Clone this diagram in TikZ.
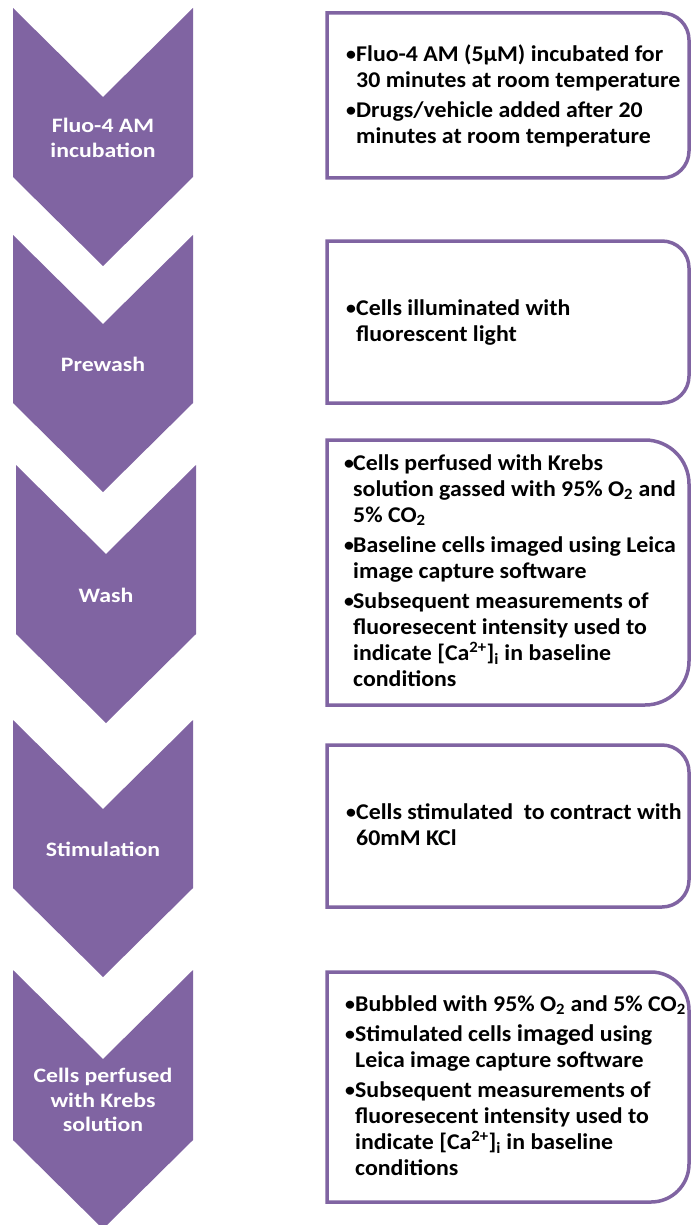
\documentclass[tikz,border=0pt]{standalone}
\usepackage{fontspec}
\setmainfont{Carlito}[FakeStretch=1.06]
\newfontfamily\chevfam{Carlito}[FakeStretch=1.16]
\definecolor{pur}{HTML}{8064A2}
\newcommand\chevfont{\chevfam\fontsize{20.5}{24.5}\selectfont\bfseries}
\newcommand\boxfont{\fontsize{22.5}{26}\selectfont\bfseries}
\newcommand\bul{{\mdseries •}}
\newcommand\chevshape[3]{\fill[pur] (#1,#2) -- ++(90,89) -- ++(90,-89) -- ++(0,#3) -- ++(-90,89) -- ++(-90,-89) -- cycle;}
\newcommand\infoshape[3]{\draw[infobox] (327,#1) -- ({689-#3},#1) arc[start angle=-90,end angle=0,radius=#3] -- (689,{#2-#3}) arc[start angle=0,end angle=90,radius=#3] -- (327,#2) -- cycle;}
\begin{document}
\begin{tikzpicture}[x=1pt,y=-1pt,
  infobox/.style={draw=pur,line width=3.5pt},
  steptext/.style={text=white,font=\chevfont,align=center,inner sep=0},
  infotext/.style={anchor=west,inner sep=0,font=\boxfont,text=black}]
\useasboundingbox (0,0) rectangle (692,1225);
% chevrons
\chevshape{13}{8}{169}
\chevshape{13}{235}{168}
\chevshape{16}{465}{169}
\chevshape{13}{720}{168}
\chevshape{13}{970}{170}
\node[steptext] (c1) at (103,138) {Fluo-4 AM\\incubation};
\node[steptext] (c2) at (103,364) {Prewash};
\node[steptext] (c3) at (106,595) {Wash};
\node[steptext] (c4) at (103,849) {Stimulation};
\node[steptext] (c5) at (103,1100) {Cells perfused\\with Krebs\\solution};
% boxes
\infoshape{13}{178}{27}
\infoshape{241}{403}{27}
\infoshape{440}{705}{44}
\infoshape{745}{907}{27}
\infoshape{972}{1202}{38}
\node[infotext] (b1) at (345,97) {\begin{tabular}{@{}p{11pt}@{}l@{}}
\bul & Fluo-4 AM (5µM) incubated for\\
 & 30 minutes at room temperature\\[4pt]
\bul & Drugs/vehicle added after 20\\
 & minutes at room temperature
\end{tabular}};
\node[infotext] (b2) at (345,323) {\begin{tabular}{@{}p{11pt}@{}l@{}}
\bul & Cells illuminated with\\
 & fluorescent light
\end{tabular}};
\node[infotext] (b3) at (343,573) {\begin{tabular}{@{}p{10pt}@{}l@{}}
\bul & Cells perfused with Krebs\\
 & solution gassed with 95\% O\textsubscript{2} and\\
 & 5\% CO\textsubscript{2}\\[4pt]
\bul & Baseline cells imaged using Leica\\
 & image capture software\\[4pt]
\bul & Subsequent measurements of\\
 & fluoresecent intensity used to\\
 & indicate [Ca\textsuperscript{2+}]\textsubscript{i} in baseline\\
 & conditions
\end{tabular}};
\node[infotext] (b4) at (345,827) {\begin{tabular}{@{}p{11pt}@{}l@{}}
\bul & Cells stimulated~ to contract with\\
 & 60mM KCl
\end{tabular}};
\node[infotext] (b5) at (344,1088) {\begin{tabular}{@{}p{11pt}@{}l@{}}
\bul & Bubbled with 95\% O\textsubscript{2} and 5\% CO\textsubscript{2}\\[4pt]
\bul & Stimulated cells {\fontsize{24}{26}\selectfont imaged} using\\
 & Leica image capture software\\[4pt]
\bul & Subsequent measurements of\\
 & fluoresecent intensity used to\\
 & indicate [Ca\textsuperscript{2+}]\textsubscript{i} in baseline\\
 & conditions
\end{tabular}};
\end{tikzpicture}
\end{document}
